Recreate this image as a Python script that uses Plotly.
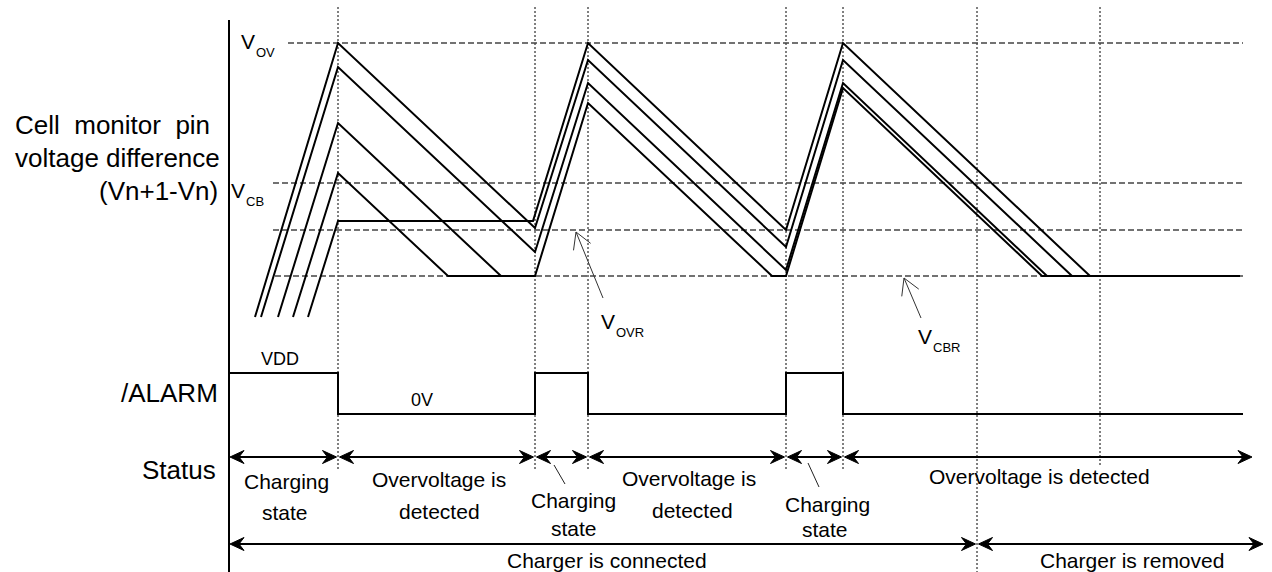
import math
import plotly.graph_objects as go

# ---------------- data (diagram units: x = time, y = level, y axis points down) ----------------
# event boundaries (vertical dotted guides)
event_times = [338, 535, 588, 786, 843, 977, 1100]
event_top = 7
event_bottoms = [470, 470, 470, 470, 470, 572, 467]

# left vertical axis
axis_x = 229
axis_span = [20, 572]

# reference voltage levels
ref_names = ["OV", "CB", "OVR", "CBR"]
ref_levels = [43, 183, 230, 276]
ref_starts = [288, 273, 273, 275]
ref_end = 1243

# cell voltage waveforms (time, level)
cell1_t = [255, 338, 535, 588, 786, 843, 1072, 1240]
cell1_v = [317, 43, 228, 60, 247, 60, 276, 276]
cell2_t = [261, 338, 535, 588, 786, 843, 1047, 1240]
cell2_v = [317, 67, 252, 83, 270, 83, 276, 276]
cell3_t = [278, 338, 501, 535, 588, 772, 786, 843, 1042, 1240]
cell3_v = [317, 123, 276, 276, 103, 276, 276, 88, 276, 276]
cell4_t = [293, 338, 448, 535]
cell4_v = [317, 173, 276, 276]
cell5_t = [308, 338, 533, 588, 786, 843, 1090, 1240]
cell5_v = [317, 221, 221, 43, 230, 43, 276, 276]

# /ALARM output (step, held until next edge)
alarm_t = [230, 338, 535, 588, 786, 843, 1243]
alarm_v = [373, 414, 373, 414, 373, 414, 414]
alarm_level_text = ["VDD", "0V"]
alarm_level_pos = [(279.5, 359), (421.5, 400)]

# status arrows
status_bounds = [230, 338, 535, 588, 786, 843, 1252]
status_y = 457
charger_bounds = [230, 977, 1263]
charger_y = 544

status_labels = ["Charging", "state", "Overvoltage is", "detected", "Charging", "state",
                 "Overvoltage is", "detected", "Charging", "state", "Overvoltage is detected"]
status_label_x = [286, 285, 439, 439, 573.5, 573.5, 689, 692, 827, 825, 1039]
status_label_y = [481, 512, 479, 511, 500.5, 528, 478, 510.5, 504, 529, 476.5]

charger_labels = ["Charger is connected", "Charger is removed"]
charger_label_x = [607, 1132]
charger_label_y = [560, 560]

# leader lines for short "Charging state" intervals
leader_from = [(554, 465), (808, 463)]
leader_to = [(565, 484), (819, 487)]

# pointers for V_OVR and V_CBR
pointer_tip = [(576, 232), (904, 278)]
pointer_tail = [(603, 298), (921, 318)]

# reference level labels: (main letter x, center y)
vlabel_pos = [(241, 41.5), (231, 190), (601, 321.5), (918, 336.5)]

# left row titles
row_titles = ["Cell\u00a0 monitor\u00a0 pin", "voltage difference", "(Vn+1-Vn)", "/ALARM", "Status"]
row_title_x = [13, 13, 220, 220, 218]
row_title_y = [125, 158, 191, 393, 470]
row_title_anchor = ["left", "left", "right", "right", "right"]

FONT = "Liberation Sans, Arial, sans-serif"

fig = go.Figure()


def add_line(xs, ys, color="black", width=2, dash=None):
    fig.add_trace(go.Scatter(x=xs, y=ys, mode="lines",
                             line=dict(color=color, width=width, dash=dash),
                             hoverinfo="skip", showlegend=False))


# dotted event guides
gx, gy = [], []
for t, b in zip(event_times, event_bottoms):
    gx += [t, t, None]
    gy += [event_top, b, None]
add_line(gx, gy, color="black", width=1, dash="2px,2px")

# dashed reference levels
rx, ry = [], []
for lv, st in zip(ref_levels, ref_starts):
    rx += [st, ref_end, None]
    ry += [lv, lv, None]
add_line(rx, ry, color="#444444", width=1.5, dash="6px,3px")

# vertical axis
add_line([axis_x, axis_x], axis_span, width=2)

# cell waveforms
for t, v in [(cell1_t, cell1_v), (cell2_t, cell2_v), (cell3_t, cell3_v),
             (cell4_t, cell4_v), (cell5_t, cell5_v)]:
    add_line(t, v, width=2)

# alarm
fig.add_trace(go.Scatter(x=alarm_t, y=alarm_v, mode="lines", line_shape="hv",
                         line=dict(color="black", width=2), hoverinfo="skip", showlegend=False))


# ---- arrows ----
def unit(a, b):
    dx, dy = b[0] - a[0], b[1] - a[1]
    n = math.hypot(dx, dy)
    return dx / n, dy / n


head_x, head_y = [], []
shaft_x, shaft_y = [], []
L, W, NOTCH = 14, 6.5, 9


def barb(tip, tail):
    ux, uy = unit(tail, tip)
    px, py = -uy, ux
    bx, by = tip[0] - ux * L, tip[1] - uy * L
    nx, ny = tip[0] - ux * NOTCH, tip[1] - uy * NOTCH
    head_x.extend([tip[0], bx + px * W, nx, bx - px * W, tip[0], None])
    head_y.extend([tip[1], by + py * W, ny, by - py * W, tip[1], None])
    return nx, ny


def double_arrow(x0, x1, y):
    a = barb((x0, y), (x1, y))
    b = barb((x1, y), (x0, y))
    shaft_x.extend([a[0], b[0], None])
    shaft_y.extend([a[1], b[1], None])


GAP = 1.5
for i in range(len(status_bounds) - 1):
    x0 = status_bounds[i] + (GAP if i > 0 else 0)
    x1 = status_bounds[i + 1] - (GAP if i < len(status_bounds) - 2 else 0)
    double_arrow(x0, x1, status_y)
for i in range(len(charger_bounds) - 1):
    x0 = charger_bounds[i] + (GAP if i > 0 else 0)
    x1 = charger_bounds[i + 1] - (GAP if i < len(charger_bounds) - 2 else 0)
    double_arrow(x0, x1, charger_y)

add_line(shaft_x, shaft_y, width=2)
fig.add_trace(go.Scatter(x=head_x, y=head_y, mode="lines", fill="toself", fillcolor="black",
                         line=dict(color="black", width=1), hoverinfo="skip", showlegend=False))

# leaders
lx, ly = [], []
for a, b in zip(leader_from, leader_to):
    lx += [a[0], b[0], None]
    ly += [a[1], b[1], None]
add_line(lx, ly, color="#222222", width=1)

# pointers with open heads
px_, py_ = [], []
PL, PA = 18.5, math.radians(30)
for tip, tail in zip(pointer_tip, pointer_tail):
    ux, uy = unit(tip, tail)
    px_ += [tail[0], tip[0], None]
    py_ += [tail[1], tip[1], None]
    for s in (1, -1):
        c, sn = math.cos(s * PA), math.sin(s * PA)
        hx = ux * c - uy * sn
        hy = ux * sn + uy * c
        px_ += [tip[0] + hx * PL, tip[0], None]
        py_ += [tip[1] + hy * PL, tip[1], None]
add_line(px_, py_, color="#333333", width=1)

# ---- text ----
ann = []


def text(s, x, y, size, anchor="center", color="black"):
    ann.append(dict(x=x, y=y, xref="x", yref="y", text=s, showarrow=False,
                    xanchor=anchor, yanchor="middle",
                    font=dict(family=FONT, size=size, color=color)))


for s, x, y, a in zip(row_titles, row_title_x, row_title_y, row_title_anchor):
    text(s, x, y, 26, a)

for s, (x, y) in zip(alarm_level_text, alarm_level_pos):
    text(s, x, y, 18)

for s, x, y in zip(status_labels, status_label_x, status_label_y):
    text(s, x, y, 21)

for s, x, y in zip(charger_labels, charger_label_x, charger_label_y):
    text(s, x, y, 21)

for name, (x, y) in zip(ref_names, vlabel_pos):
    text("V", x - 2, y, 21, "left")
    text(name, x + 13, y + 11, 13, "left")

fig.update_layout(
    width=1272, height=572, autosize=False,
    margin=dict(l=0, r=0, t=0, b=0, pad=0),
    paper_bgcolor="white", plot_bgcolor="white",
    xaxis=dict(range=[0, 1272], visible=False, fixedrange=True),
    yaxis=dict(range=[572, 0], visible=False, fixedrange=True),
    annotations=ann,
    showlegend=False,
)

fig.write_html(
    "out.html",
    config={"displayModeBar": False},
    post_script="document.body.style.margin='0';document.body.style.padding='0';"
                "document.body.style.overflow='hidden';",
)
